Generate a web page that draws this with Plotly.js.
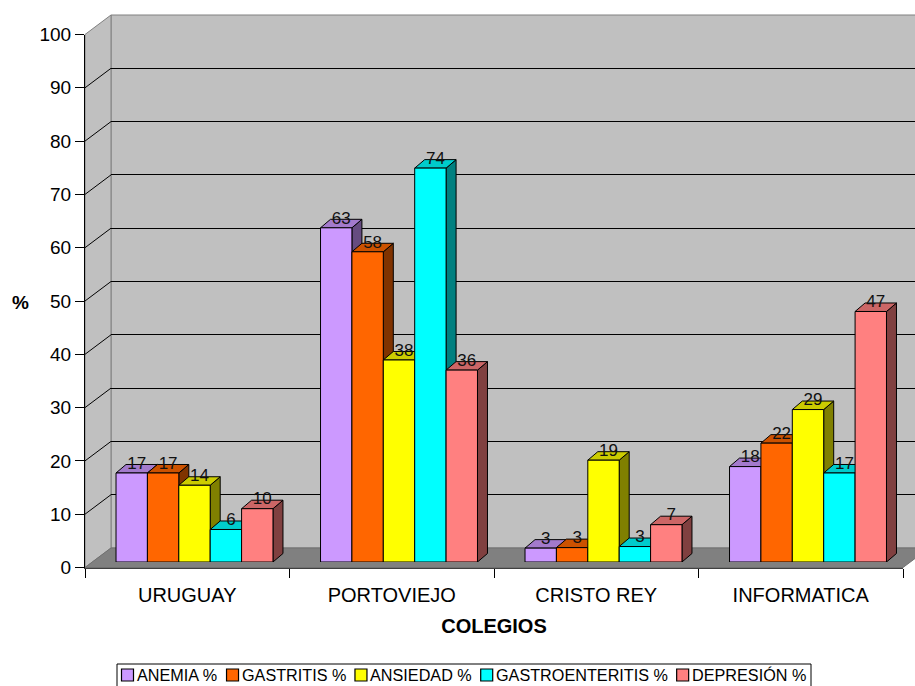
<!DOCTYPE html>
<html>
<head>
<meta charset="utf-8">
<script src="https://cdn.plot.ly/plotly-3.0.1.min.js"></script>
<style>html,body{margin:0;padding:0;background:#fff;}#chart{width:915px;height:686px;}</style>
</head>
<body>
<div id="chart"></div>
<script>
// ---- data ----
const colegios = ["URUGUAY", "PORTOVIEJO", "CRISTO REY", "INFORMATICA"];
const seriesNames = ["ANEMIA %", "GASTRITIS %", "ANSIEDAD %", "GASTROENTERITIS %", "DEPRESIÓN %"];
const anemia = [16.7, 62.7, 2.6, 17.9];
const gastritis = [16.7, 58.2, 2.7, 22.3];
const ansiedad = [14.4, 37.9, 19.1, 28.6];
const gastroenteritis = [6.1, 73.9, 2.9, 16.7];
const depresion = [10.0, 36.0, 7.0, 47.0];
const yTicks = [0, 10, 20, 30, 40, 50, 60, 70, 80, 90, 100];

// ---- styles ----
const frontColors = ["#CC99FF", "#FF6600", "#FFFF00", "#00FFFF", "#FF8080"];
const topColors   = ["#A37ACC", "#CC5200", "#CCCC00", "#00CCCC", "#CC6666"];
const sideColors  = ["#664C80", "#803300", "#808000", "#008080", "#804040"];
const FONT = "Arial, 'Liberation Sans', sans-serif";

const W = 915, H = 686;
const px = x => x / W;
const py = y => 1 - y / H;

// geometry (pixels)
const FX0 = 85, FX1 = 903, FY0 = 567.5, FY100 = 34.5;   // front axes
const BX0 = 111, BY0 = 548, BY100 = 15;                 // back wall
const SX = 7.25, SY = 5.5;                              // bar row shift
const barW = 0.1535;                                    // bar width (category units)
const catPx = (FX1 - FX0) / 4;
const unitPx = (FY0 - FY100) / 100;
const DX = 10 / catPx, DY = 8.5 / unitPx;               // bar depth in data units

const seriesVals = [anemia, gastritis, ansiedad, gastroenteritis, depresion];
const xIdx = colegios.map((c, i) => i);

const traces = [];
traces.push({type: "scatter", x: [0], y: [0], mode: "markers", marker: {opacity: 0},
  hoverinfo: "skip", showlegend: false, xaxis: "x", yaxis: "y"});

const shapes = [];
const annotations = [];
// back wall
shapes.push({type: "rect", xref: "paper", yref: "paper", x0: px(BX0), x1: px(W + 2), y0: py(BY0), y1: py(BY100),
  fillcolor: "#C0C0C0", line: {color: "#808080", width: 1}, layer: "below"});
// side wall
shapes.push({type: "path", xref: "paper", yref: "paper",
  path: `M ${px(FX0)},${py(FY0)} L ${px(FX0)},${py(FY100)} L ${px(BX0)},${py(BY100)} L ${px(BX0)},${py(BY0)} Z`,
  fillcolor: "#C0C0C0", line: {color: "#808080", width: 1}, layer: "below"});
// floor
shapes.push({type: "path", xref: "paper", yref: "paper",
  path: `M ${px(FX0)},${py(FY0)} L ${px(FX1)},${py(FY0)} L ${px(FX1 + (BX0 - FX0))},${py(BY0)} L ${px(BX0)},${py(BY0)} Z`,
  fillcolor: "#808080", line: {color: "#707070", width: 1}, layer: "below"});
// side wall diagonals at ticks
yTicks.forEach(t => {
  if (t === 0 || t === 100) return;
  const y0 = FY0 + (FY100 - FY0) * t / 100;
  const y1 = BY0 + (BY100 - BY0) * t / 100;
  shapes.push({type: "line", xref: "paper", yref: "paper", x0: px(FX0), y0: py(y0), x1: px(BX0), y1: py(y1),
    line: {color: "#000000", width: 1}, layer: "below"});
});

const labX = [], labY = [], labT = [];
seriesVals.forEach((vals, k) => {
  const off = (k - 2.5) * barW;
  traces.push({type: "bar", name: seriesNames[k], x: xIdx, y: vals, width: barW, offset: off,
    marker: {color: frontColors[k], line: {color: "#000000", width: 1}},
    xaxis: "x2", yaxis: "y2", hoverinfo: "skip", showlegend: false});
  vals.forEach((v, i) => {
    const x0 = i + off, x1 = x0 + barW;
    shapes.push({type: "path", xref: "x2", yref: "y2", layer: "between",
      path: `M ${x1},0 L ${x1},${v} L ${x1 + DX},${v + DY} L ${x1 + DX},${DY} Z`,
      fillcolor: sideColors[k], line: {color: "#000000", width: 1}});
    shapes.push({type: "path", xref: "x2", yref: "y2", layer: "between",
      path: `M ${x0},${v} L ${x1},${v} L ${x1 + DX},${v + DY} L ${x0 + DX},${v + DY} Z`,
      fillcolor: topColors[k], line: {color: "#000000", width: 1}});
    labX.push(x0 + barW / 2 + DX / 2);
    labY.push(v + DY);
    labT.push(String(Math.round(v)));
  });
});
traces.push({type: "scatter", mode: "text", x: labX, y: labY, text: labT, textposition: "middle center",
  textfont: {family: FONT, size: 17, color: "#111111"}, cliponaxis: false,
  hoverinfo: "skip", showlegend: false, xaxis: "x2", yaxis: "y2"});

traces.push({type: "scatter", x: colegios, y: [0, 0, 0, 0], mode: "markers", marker: {opacity: 0},
  hoverinfo: "skip", showlegend: false, xaxis: "x3", yaxis: "y3"});

// ---- legend (box with swatches and texts) ----
const LBX0 = 117, LBX1 = 811, LBY0 = 664, LBY1 = 686.5, LCY = 675;
const LSTART = 121.5, LEND = 806.5, SW = 12, GAP1 = 3, GAP2 = 9;
const canvas = document.createElement("canvas");
const ctx = canvas.getContext("2d");
function textW(str, size, fam) { ctx.font = size + "px " + fam; return ctx.measureText(str).width; }
let legFam = "'Liberation Sans Narrow', 'Arial Narrow'";
const probe = "GASTROENTERITIS %";
const narrowOK = Math.abs(textW(probe, 20, legFam + ", monospace") - textW(probe, 20, "monospace")) > 1;
if (!narrowOK) legFam = FONT; else legFam = legFam + ", " + FONT;
const availText = (LEND - LSTART) - seriesNames.length * (SW + GAP1) - (seriesNames.length - 1) * GAP2;
const w20 = seriesNames.reduce((s, n) => s + textW(n, 20, legFam), 0);
const legSize = 20 * availText / w20;
shapes.push({type: "rect", xref: "paper", yref: "paper", x0: px(LBX0), x1: px(LBX1), y0: py(LBY1), y1: py(LBY0),
  fillcolor: "#FFFFFF", line: {color: "#000000", width: 1}, layer: "above"});
let cx = LSTART;
seriesNames.forEach((n, k) => {
  shapes.push({type: "rect", xref: "paper", yref: "paper", x0: px(cx), x1: px(cx + SW),
    y0: py(LCY + SW / 2), y1: py(LCY - SW / 2), fillcolor: frontColors[k],
    line: {color: "#000000", width: 1.2}, layer: "above"});
  cx += SW + GAP1;
  annotations.push({text: n, xref: "paper", yref: "paper", x: px(cx - 1), y: py(LCY), showarrow: false,
    xanchor: "left", yanchor: "middle", borderpad: 0,
    font: {family: legFam, size: legSize, color: "#000000"}});
  cx += textW(n, legSize, legFam) + GAP2;
});

annotations.push({text: "%", xref: "paper", yref: "paper", x: px(20), y: py(302), showarrow: false,
  font: {family: FONT, size: 19, weight: "bold", color: "#000000"}, xanchor: "center", yanchor: "middle"});

const layout = {
  width: W, height: H,
  margin: {l: 0, r: 0, t: 0, b: 0},
  paper_bgcolor: "#FFFFFF",
  plot_bgcolor: "rgba(0,0,0,0)",
  font: {family: FONT, color: "#000000"},
  barmode: "overlay",
  showlegend: false,
  xaxis: {domain: [px(BX0), 1], range: [0, 1], visible: false, anchor: "y", fixedrange: true},
  yaxis: {domain: [py(BY0), py(BY100)], range: [0, 100], anchor: "x", tickmode: "array",
    tickvals: yTicks.filter(t => t > 0 && t < 100), showgrid: true, gridcolor: "#000000", gridwidth: 1,
    showticklabels: false, ticks: "", zeroline: false, showline: false, fixedrange: true},
  xaxis2: {domain: [px(FX0 + SX), px(FX1 + SX)], range: [-0.5, 3.5], visible: false, anchor: "y2", fixedrange: true},
  yaxis2: {domain: [py(FY0 - SY), py(FY100 - SY)], range: [0, 100], visible: false, anchor: "x2", fixedrange: true},
  xaxis3: {domain: [px(FX0), px(FX1)], type: "category", categoryorder: "array", categoryarray: colegios,
    range: [-0.5, 3.5], anchor: "y3", tickson: "boundaries", ticks: "outside", ticklen: 9, tickcolor: "#000000",
    showline: true, linecolor: "#404040", showgrid: false, zeroline: false, ticklabelstandoff: 9,
    tickfont: {family: FONT, size: 20, color: "#000000"},
    title: {text: "COLEGIOS", font: {family: FONT, size: 20, weight: "bold", color: "#000000"}, standoff: 14},
    fixedrange: true},
  yaxis3: {domain: [py(FY0), py(FY100)], range: [0, 100], anchor: "x3", tickmode: "array", tickvals: yTicks,
    ticks: "outside", ticklen: 9, tickcolor: "#000000", showline: true, linecolor: "#000000",
    showgrid: false, zeroline: false, tickfont: {family: FONT, size: 19, color: "#000000"}, fixedrange: true},
  shapes: shapes,
  annotations: annotations
};

Plotly.newPlot("chart", traces, layout, {displayModeBar: false, staticPlot: true});
</script>
</body>
</html>
